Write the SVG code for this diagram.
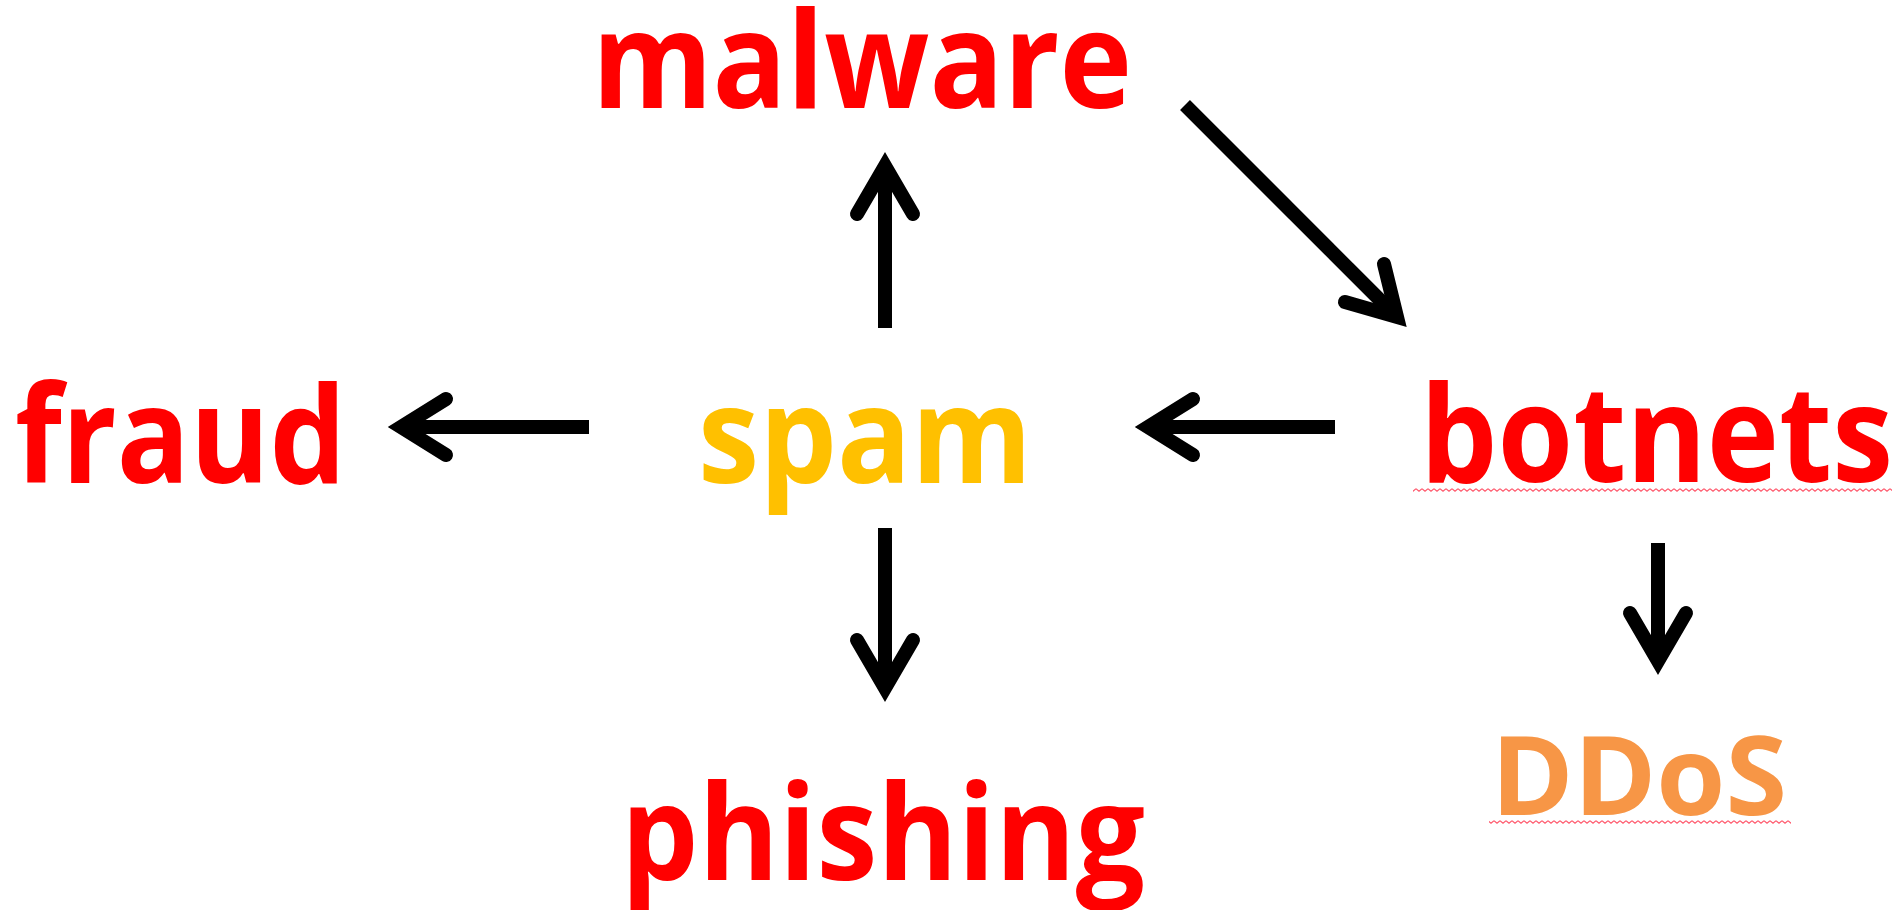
<svg xmlns="http://www.w3.org/2000/svg" width="1903" height="910" viewBox="0 0 1903 910">
<defs>
<style>
.lbl{font-family:"Open Sans","Noto Sans","Liberation Sans",sans-serif;font-weight:700;}
.red{fill:#FF0000;}
.spam{fill:#FFC000;}
.ddos{fill:#F79646;}
.shaft{stroke:#000;stroke-width:14;stroke-linecap:butt;fill:none;}
.head{stroke:#000;stroke-width:14;stroke-linecap:round;stroke-linejoin:miter;fill:none;}
</style>
<pattern id="squiggle" patternUnits="userSpaceOnUse" width="6" height="4">
<path d="M0 0.8 L3 3.2 L6 0.8" stroke="#FF5A6E" stroke-width="1.2" fill="none"/>
</pattern>
</defs>
<rect width="1903" height="910" fill="#fff"/>
<g id="connectors">
<g id="spam-malware">
<line class="shaft" x1="885" y1="328" x2="885" y2="170"/>
<path class="head" d="M857 214 L885 166 L913 214"/>
</g>
<g id="malware-botnets">
<line class="shaft" x1="1185" y1="105" x2="1393" y2="313"/>
<path class="head" d="M1384 264 L1397 317 L1345 302"/>
</g>
<g id="botnets-spam">
<line class="shaft" x1="1335" y1="427" x2="1153" y2="427"/>
<path class="head" d="M1193 399 L1148 427 L1193 455"/>
</g>
<g id="spam-fraud">
<line class="shaft" x1="589" y1="427" x2="406" y2="427"/>
<path class="head" d="M446 399 L401 427 L446 455"/>
</g>
<g id="spam-phishing">
<line class="shaft" x1="885" y1="528" x2="885" y2="683"/>
<path class="head" d="M857 640 L885 688 L913 640"/>
</g>
<g id="botnets-ddos">
<line class="shaft" x1="1658" y1="543" x2="1658" y2="656"/>
<path class="head" d="M1630 613 L1658 661 L1686 613"/>
</g>
</g>
<g id="malware">
<text class="lbl red" x="592" y="108" font-size="134" textLength="540" lengthAdjust="spacingAndGlyphs">malware</text>
</g>
<g id="spam">
<text class="lbl spam" x="698" y="483" font-size="134" textLength="334" lengthAdjust="spacingAndGlyphs">spam</text>
</g>
<g id="fraud">
<text class="lbl red" x="15" y="483" font-size="134" textLength="331" lengthAdjust="spacingAndGlyphs">fraud</text>
</g>
<g id="botnets">
<text class="lbl red" x="1420" y="482" font-size="134" textLength="473" lengthAdjust="spacingAndGlyphs">botnets</text>
<rect x="1413" y="488" width="479" height="4" fill="url(#squiggle)"/>
</g>
<g id="phishing">
<text class="lbl red" x="621" y="880" font-size="132" textLength="524" lengthAdjust="spacingAndGlyphs">phishing</text>
</g>
<g id="ddos">
<text class="lbl ddos" x="1491" y="815" font-size="110" textLength="296" lengthAdjust="spacingAndGlyphs">DDoS</text>
<rect x="1489" y="820" width="302" height="4" fill="url(#squiggle)"/>
</g>
</svg>
